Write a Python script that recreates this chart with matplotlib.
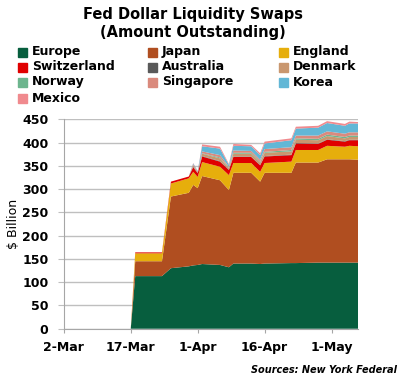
import numpy as np
import pandas as pd
import matplotlib
matplotlib.use("Agg")
import matplotlib.pyplot as plt
from matplotlib.patches import Rectangle

# dates where the series change (2020)
dates = pd.to_datetime([
    "2020-03-02", "2020-03-17", "2020-03-18", "2020-03-24", "2020-03-26",
    "2020-03-30", "2020-03-31", "2020-04-01", "2020-04-02", "2020-04-06",
    "2020-04-08", "2020-04-09", "2020-04-13", "2020-04-15", "2020-04-16",
    "2020-04-22", "2020-04-23", "2020-04-28", "2020-04-30", "2020-05-04",
    "2020-05-05", "2020-05-07",
])

# $ billion outstanding
europe      = [0, 0, 113, 113, 130, 134, 136, 137, 139, 137, 132, 140, 140, 139, 140, 141, 141, 142, 142, 142, 142, 142]
japan       = [0, 0, 32, 32, 154, 158, 173, 165, 189, 182, 166, 195, 195, 177, 195, 194, 216, 215, 222, 222, 222, 221]
england     = [0, 0, 17, 17, 28, 31, 28, 24, 30, 29, 32, 21, 21, 21, 21, 24, 27, 27, 29, 27, 29, 29]
switzerland = [0, 0, 2, 2, 4, 4, 10, 8, 12, 11, 11, 13, 13, 14, 14, 14, 14, 13, 13, 11, 12, 13]
australia   = [0, 0, 0, 0, 0, 0, 1, 1, 1, 1, 1, 1, 1, 1, 1, 1, 1, 1, 1, 1, 1, 1]
denmark     = [0, 0, 0, 0, 0, 0, 3, 2, 5, 6, 3, 6, 6, 5, 7, 7, 7, 7, 7, 6, 6, 6]
norway      = [0, 0, 0, 0, 0, 0, 0, 0, 1, 2, 1, 2, 2, 2, 2, 3, 3, 3, 3, 3, 3, 3]
singapore   = [0, 0, 0, 0, 0, 0, 2, 1, 4, 5, 2, 5, 4, 4, 6, 6, 6, 7, 7, 7, 7, 7]
korea       = [0, 0, 0, 0, 0, 0, 2, 1, 11, 14, 4, 10, 10, 10, 12, 15, 15, 17, 18, 17, 19, 19]
mexico      = [0, 0, 0, 0, 0, 0, 1, 0, 4, 4, 2, 4, 3, 4, 4, 4, 4, 4, 4, 4, 4, 3]

labels = ["Europe", "Japan", "England", "Switzerland", "Australia",
          "Denmark", "Norway", "Singapore", "Korea", "Mexico"]
colors = ["#075E3E", "#B04E20", "#E6AE0C", "#E00000", "#595959",
          "#C9976F", "#6DB58E", "#DA8A7D", "#62B7D6", "#F08A8E"]
series = [europe, japan, england, switzerland, australia,
          denmark, norway, singapore, korea, mexico]

tick_dates = pd.to_datetime(["2020-03-02", "2020-03-17", "2020-04-01", "2020-04-16", "2020-05-01"])
tick_labels = ["2-Mar", "17-Mar", "1-Apr", "16-Apr", "1-May"]

fig = plt.figure(figsize=(3.99, 3.79), dpi=100)
ax = fig.add_axes([0.160, 0.1327, 0.738, 0.5526])

ax.stackplot(dates, *series, colors=colors, linewidth=0, zorder=3)

ax.set_ylim(0, 450)
ax.set_yticks(range(0, 451, 50))
ax.set_xlim(dates[0], dates[-1])
ax.set_xticks(tick_dates)
ax.set_xticklabels(tick_labels)

ax.grid(axis="y", color="#BFBFBF", linewidth=1, zorder=0)
for s in ["top", "right"]:
    ax.spines[s].set_visible(False)
for s in ["left", "bottom"]:
    ax.spines[s].set_color("#A6A6A6")
ax.tick_params(axis="y", length=4, color="#BFBFBF", pad=7, labelsize=9)
ax.tick_params(axis="x", length=3, color="#A6A6A6", pad=6, labelsize=9)
for t in ax.get_xticklabels() + ax.get_yticklabels():
    t.set_fontweight("bold")

ax.set_ylabel(r"\$ Billion", fontsize=9, labelpad=2)

fig.text(0.484, 0.962, "Fed Dollar Liquidity Swaps", ha="center", va="center",
         fontsize=10.5, fontweight="bold")
fig.text(0.484, 0.913, "(Amount Outstanding)", ha="center", va="center",
         fontsize=10.5, fontweight="bold")

# legend laid out in rows of three like the original
col_x = [18, 148, 279]
row_y = [52, 67, 82, 98]
for i, (lab, col) in enumerate(zip(labels, colors)):
    r, c = divmod(i, 3)
    x0 = col_x[c] / 399
    y0 = 1 - row_y[r] / 379
    fig.patches.append(Rectangle((x0, y0 - 4.5 / 379), 9 / 399, 9 / 379,
                                 transform=fig.transFigure, color=col))
    fig.text(x0 + 14 / 399, y0, lab, ha="left", va="center",
             fontsize=9, fontweight="bold")

fig.text(0.995, 1 - 370 / 379, "Sources: New York Federal",
         ha="right", va="center", fontsize=7, fontweight="bold", style="italic")

fig.savefig("out.png", dpi=100)
